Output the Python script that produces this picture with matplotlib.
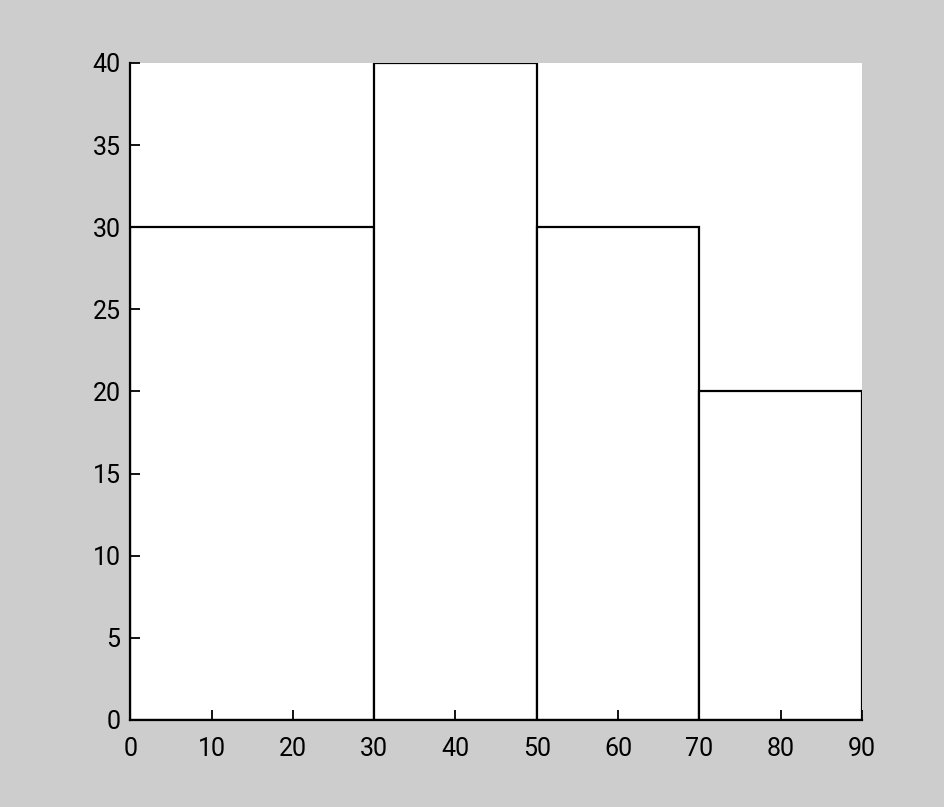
import numpy as np
import matplotlib.pyplot as plt

## Data
bin_edges = [0, 30, 50, 70, 90]
counts = [30, 40, 30, 20]
x_ticks = [0, 10, 20, 30, 40, 50, 60, 70, 80, 90]
y_ticks = [0, 5, 10, 15, 20, 25, 30, 35, 40]

plt.rcParams['font.family'] = ['Roboto', 'DejaVu Sans']

fig = plt.figure(figsize=(9.44, 8.07), dpi=100, facecolor='#cdcdcd')
ax = fig.add_axes([0.138, 0.108, 0.775, 0.814])

widths = np.diff(bin_edges)
ax.bar(bin_edges[:-1], counts, width=widths, align='edge',
       color='white', edgecolor='black', linewidth=1.6)

ax.set_xlim(bin_edges[0], bin_edges[-1])
ax.set_ylim(0, 40)
ax.set_xticks(x_ticks)
ax.set_yticks(y_ticks)

# Only left and bottom axis lines, ticks pointing in
ax.spines['top'].set_visible(False)
ax.spines['right'].set_visible(False)
ax.spines['left'].set_linewidth(1.6)
ax.spines['bottom'].set_linewidth(1.6)
ax.tick_params(direction='in', length=7, width=1.3, labelsize=18)
ax.tick_params(axis='y', pad=7)
ax.tick_params(axis='x', pad=12)

fig.savefig('out.png', dpi=100, facecolor=fig.get_facecolor())
